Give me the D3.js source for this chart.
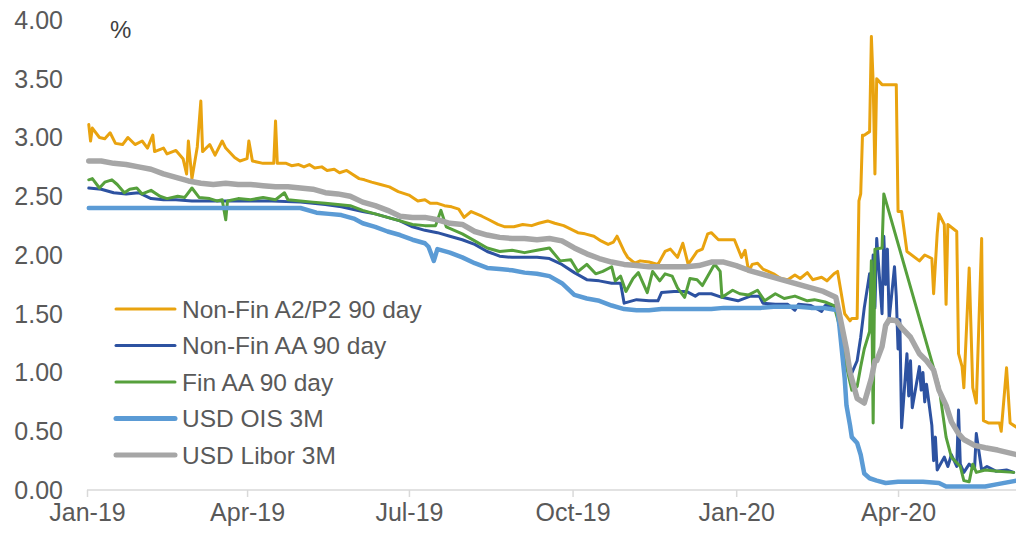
<!DOCTYPE html>
<html><head><meta charset="utf-8">
<script src="https://cdn.jsdelivr.net/npm/d3@7"></script>
<style>
html,body{margin:0;padding:0;background:#fff;}
svg{display:block;font-family:"Liberation Sans",Arial,sans-serif;}
</style></head>
<body><svg id="chart" width="1016" height="536"></svg>
<script>
const seriesNames = ["Non-Fin A2/P2 90 day","Non-Fin AA 90 day","Fin AA 90 day","USD OIS 3M","USD Libor 3M"];
const seriesColors = ["#E9A30F","#2D52A1","#56A03C","#5B9BD5","#A6A6A6"];
const seriesWidths = [3,3,3,4.5,5.5];
const legendWidths = [3,3,3,5,5];
const tickDates = ["2019-01-01","2019-04-01","2019-07-01","2019-10-01","2020-01-01","2020-04-01"];
const tickLabels = ["Jan-19","Apr-19","Jul-19","Oct-19","Jan-20","Apr-20"];
const yTicks = [0,0.5,1,1.5,2,2.5,3,3.5,4];

const nonFinA2P2 = [
["2019-01-02",3.11],["2019-01-03",2.97],["2019-01-04",3.08],["2019-01-08",3.00],["2019-01-11",2.99],["2019-01-14",3.04],
["2019-01-17",2.95],["2019-01-21",2.94],["2019-01-24",3.00],["2019-01-28",2.94],["2019-02-01",2.97],["2019-02-04",2.91],
["2019-02-07",3.02],["2019-02-08",2.88],["2019-02-13",2.91],["2019-02-15",2.86],["2019-02-20",2.89],["2019-02-24",2.82],
["2019-02-26",2.69],["2019-02-27",2.97],["2019-03-01",2.65],["2019-03-04",2.92],["2019-03-06",3.31],["2019-03-07",2.88],
["2019-03-11",2.94],["2019-03-14",2.85],["2019-03-18",2.97],["2019-03-20",2.91],["2019-03-25",2.83],["2019-03-28",2.80],
["2019-04-01",2.82],["2019-04-02",2.97],["2019-04-04",2.80],["2019-04-10",2.78],["2019-04-16",2.78],["2019-04-17",3.14],
["2019-04-18",2.78],["2019-04-23",2.78],["2019-04-26",2.76],["2019-04-30",2.77],["2019-05-03",2.75],["2019-05-06",2.77],
["2019-05-09",2.74],["2019-05-13",2.75],["2019-05-16",2.72],["2019-05-20",2.73],["2019-05-23",2.70],["2019-05-27",2.72],
["2019-05-30",2.69],["2019-06-03",2.65],["2019-06-06",2.64],["2019-06-10",2.62],["2019-06-15",2.60],["2019-06-20",2.58],
["2019-06-25",2.54],["2019-07-01",2.51],["2019-07-06",2.46],["2019-07-10",2.47],["2019-07-13",2.44],["2019-07-17",2.44],
["2019-07-21",2.42],["2019-07-25",2.41],["2019-07-29",2.39],["2019-08-01",2.32],["2019-08-05",2.37],["2019-08-08",2.35],
["2019-08-11",2.33],["2019-08-15",2.30],["2019-08-20",2.26],["2019-08-24",2.24],["2019-08-29",2.24],["2019-09-03",2.26],
["2019-09-08",2.25],["2019-09-12",2.27],["2019-09-17",2.29],["2019-09-21",2.27],["2019-09-26",2.25],["2019-09-30",2.22],
["2019-10-04",2.19],["2019-10-08",2.18],["2019-10-13",2.16],["2019-10-17",2.12],["2019-10-21",2.09],["2019-10-24",2.11],
["2019-10-26",2.16],["2019-10-30",2.03],["2019-11-01",1.98],["2019-11-05",1.93],["2019-11-08",1.95],["2019-11-13",1.94],
["2019-11-18",1.92],["2019-11-22",2.03],["2019-11-25",2.05],["2019-11-29",1.98],["2019-12-02",2.10],["2019-12-05",1.92],
["2019-12-10",2.03],["2019-12-13",2.05],["2019-12-16",2.18],["2019-12-18",2.19],["2019-12-22",2.13],["2019-12-31",2.13],
["2020-01-04",1.98],["2020-01-06",2.04],["2020-01-08",1.86],["2020-01-10",1.92],["2020-01-13",1.93],["2020-01-16",1.88],
["2020-01-19",1.86],["2020-01-22",1.84],["2020-01-26",1.80],["2020-01-30",1.79],["2020-02-03",1.83],["2020-02-06",1.80],
["2020-02-10",1.85],["2020-02-13",1.79],["2020-02-18",1.81],["2020-02-21",1.78],["2020-02-25",1.84],["2020-02-27",1.86],
["2020-03-02",1.50],["2020-03-05",1.44],["2020-03-06",1.46],["2020-03-09",1.46],["2020-03-10",2.46],["2020-03-11",2.52],
["2020-03-12",3.02],["2020-03-13",3.02],["2020-03-16",3.05],["2020-03-17",3.86],["2020-03-18",3.47],["2020-03-19",2.69],
["2020-03-20",3.50],["2020-03-23",3.45],["2020-03-31",3.45],["2020-04-01",2.37],["2020-04-03",2.37],["2020-04-06",2.03],
["2020-04-13",1.95],["2020-04-16",2.00],["2020-04-20",1.97],["2020-04-21",1.67],["2020-04-23",2.18],["2020-04-24",2.35],
["2020-04-27",2.26],["2020-04-28",1.58],["2020-04-29",2.26],["2020-05-04",2.20],["2020-05-05",1.16],["2020-05-07",1.05],
["2020-05-08",0.87],["2020-05-11",1.89],["2020-05-13",0.87],["2020-05-15",0.74],["2020-05-18",2.14],["2020-05-19",0.59],
["2020-05-22",0.57],["2020-05-28",0.57],["2020-05-29",0.50],["2020-06-01",1.04],["2020-06-03",0.57],["2020-06-05",0.55],
["2020-06-08",0.52]
];

const nonFinAA = [
["2019-01-02",2.57],["2019-01-09",2.56],["2019-01-16",2.53],["2019-01-23",2.52],["2019-01-30",2.53],["2019-02-06",2.48],
["2019-02-13",2.47],["2019-02-20",2.47],["2019-03-01",2.46],["2019-03-15",2.46],["2019-04-01",2.46],["2019-04-15",2.46],
["2019-05-01",2.45],["2019-05-15",2.43],["2019-05-24",2.41],["2019-06-05",2.37],["2019-06-12",2.35],["2019-06-19",2.32],
["2019-06-26",2.29],["2019-07-03",2.24],["2019-07-10",2.21],["2019-07-17",2.19],["2019-07-24",2.16],["2019-07-31",2.13],
["2019-08-07",2.09],["2019-08-14",2.03],["2019-08-21",1.99],["2019-08-28",1.98],["2019-09-04",1.98],["2019-09-11",1.98],
["2019-09-18",1.97],["2019-09-25",1.92],["2019-10-02",1.85],["2019-10-09",1.79],["2019-10-16",1.78],["2019-10-23",1.76],
["2019-10-28",1.76],["2019-10-30",1.59],["2019-11-06",1.62],["2019-11-13",1.61],["2019-11-18",1.61],["2019-11-20",1.68],
["2019-11-27",1.69],["2019-12-04",1.69],["2019-12-09",1.65],["2019-12-11",1.67],["2019-12-18",1.67],["2019-12-24",1.64],
["2020-01-02",1.61],["2020-01-09",1.65],["2020-01-14",1.65],["2020-01-16",1.59],["2020-01-23",1.58],["2020-01-30",1.58],
["2020-02-03",1.53],["2020-02-05",1.58],["2020-02-12",1.57],["2020-02-18",1.52],["2020-02-20",1.57],["2020-02-26",1.57],
["2020-02-28",1.40],["2020-03-02",1.16],["2020-03-05",0.96],["2020-03-09",1.10],["2020-03-11",1.30],["2020-03-13",1.55],
["2020-03-16",1.84],["2020-03-17",1.60],["2020-03-18",2.00],["2020-03-19",1.55],["2020-03-20",2.14],["2020-03-23",1.50],
["2020-03-24",2.16],["2020-03-25",1.75],["2020-03-26",2.05],["2020-03-27",1.45],["2020-03-30",1.90],["2020-03-31",1.65],
["2020-04-01",1.20],["2020-04-02",1.45],["2020-04-03",0.53],["2020-04-06",1.16],["2020-04-07",0.80],["2020-04-08",1.10],
["2020-04-09",0.70],["2020-04-13",1.05],["2020-04-14",0.85],["2020-04-15",1.00],["2020-04-16",0.75],["2020-04-17",0.90],
["2020-04-20",0.55],["2020-04-21",0.25],["2020-04-22",0.45],["2020-04-23",0.17],["2020-04-27",0.28],["2020-04-29",0.20],
["2020-05-01",0.30],["2020-05-04",0.20],["2020-05-05",0.68],["2020-05-06",0.22],["2020-05-08",0.15],["2020-05-11",0.22],
["2020-05-14",0.18],["2020-05-15",0.48],["2020-05-18",0.17],["2020-05-21",0.20],["2020-05-26",0.16],["2020-06-01",0.17],
["2020-06-05",0.15]
];

const finAA = [
["2019-01-02",2.64],["2019-01-04",2.65],["2019-01-08",2.57],["2019-01-11",2.62],["2019-01-15",2.64],["2019-01-18",2.60],
["2019-01-22",2.53],["2019-01-25",2.56],["2019-01-29",2.57],["2019-02-01",2.52],["2019-02-06",2.55],["2019-02-11",2.50],
["2019-02-15",2.48],["2019-02-21",2.50],["2019-02-25",2.49],["2019-03-01",2.57],["2019-03-05",2.49],["2019-03-11",2.48],
["2019-03-15",2.46],["2019-03-18",2.47],["2019-03-20",2.30],["2019-03-21",2.46],["2019-03-27",2.48],["2019-04-03",2.47],
["2019-04-10",2.49],["2019-04-17",2.47],["2019-04-22",2.53],["2019-04-24",2.47],["2019-05-01",2.46],["2019-05-08",2.45],
["2019-05-15",2.44],["2019-05-22",2.43],["2019-05-29",2.42],["2019-06-05",2.38],["2019-06-12",2.35],["2019-06-19",2.32],
["2019-06-26",2.29],["2019-07-03",2.26],["2019-07-10",2.25],["2019-07-16",2.25],["2019-07-19",2.38],["2019-07-22",2.24],
["2019-07-31",2.18],["2019-08-07",2.12],["2019-08-14",2.06],["2019-08-21",2.03],["2019-08-28",2.04],["2019-09-04",2.02],
["2019-09-11",2.04],["2019-09-18",2.06],["2019-09-24",1.95],["2019-09-30",1.96],["2019-10-04",1.86],["2019-10-09",1.92],
["2019-10-14",1.84],["2019-10-18",1.86],["2019-10-23",1.90],["2019-10-25",1.78],["2019-10-28",1.82],["2019-10-31",1.69],
["2019-11-04",1.80],["2019-11-07",1.85],["2019-11-12",1.68],["2019-11-15",1.86],["2019-11-19",1.78],["2019-11-22",1.84],
["2019-11-26",1.82],["2019-11-29",1.72],["2019-12-03",1.64],["2019-12-06",1.80],["2019-12-10",1.79],["2019-12-13",1.74],
["2019-12-19",1.90],["2019-12-20",1.92],["2019-12-23",1.86],["2019-12-24",1.64],["2019-12-30",1.70],["2020-01-03",1.67],
["2020-01-08",1.66],["2020-01-13",1.70],["2020-01-17",1.61],["2020-01-23",1.67],["2020-01-28",1.63],["2020-02-03",1.65],
["2020-02-10",1.61],["2020-02-14",1.62],["2020-02-20",1.60],["2020-02-25",1.57],["2020-02-28",1.40],["2020-03-03",1.05],
["2020-03-06",0.85],["2020-03-09",0.88],["2020-03-11",1.05],["2020-03-13",1.20],["2020-03-16",1.35],["2020-03-17",1.95],
["2020-03-18",0.57],["2020-03-19",2.05],["2020-03-23",2.06],["2020-03-24",2.52],["2020-04-24",0.88],["2020-04-28",0.45],
["2020-05-01",0.28],["2020-05-06",0.20],["2020-05-08",0.08],["2020-05-11",0.07],["2020-05-13",0.22],["2020-05-15",0.15],
["2020-05-20",0.17],["2020-05-27",0.16],["2020-06-05",0.15]
];

const usdOIS = [
["2019-01-02",2.40],["2019-02-01",2.40],["2019-03-01",2.40],["2019-04-01",2.40],["2019-05-01",2.40],["2019-05-10",2.36],
["2019-05-17",2.35],["2019-05-24",2.34],["2019-05-31",2.31],["2019-06-05",2.27],["2019-06-12",2.24],["2019-06-19",2.20],
["2019-06-26",2.17],["2019-07-03",2.13],["2019-07-10",2.10],["2019-07-12",2.07],["2019-07-15",1.95],["2019-07-17",2.05],
["2019-07-24",2.02],["2019-07-31",1.98],["2019-08-07",1.93],["2019-08-14",1.89],["2019-08-21",1.88],["2019-08-28",1.87],
["2019-09-04",1.85],["2019-09-11",1.84],["2019-09-18",1.82],["2019-09-25",1.76],["2019-10-02",1.66],["2019-10-09",1.63],
["2019-10-16",1.61],["2019-10-23",1.57],["2019-10-30",1.54],["2019-11-06",1.53],["2019-11-13",1.53],["2019-11-20",1.54],
["2019-11-27",1.54],["2019-12-04",1.54],["2019-12-11",1.54],["2019-12-18",1.54],["2019-12-25",1.55],["2020-01-01",1.55],
["2020-01-08",1.55],["2020-01-15",1.55],["2020-01-22",1.56],["2020-01-29",1.56],["2020-02-05",1.56],["2020-02-12",1.55],
["2020-02-19",1.55],["2020-02-27",1.53],["2020-02-28",1.40],["2020-03-02",0.95],["2020-03-03",0.72],["2020-03-05",0.55],
["2020-03-06",0.45],["2020-03-09",0.40],["2020-03-11",0.30],["2020-03-13",0.14],["2020-03-16",0.10],["2020-03-20",0.08],
["2020-03-25",0.06],["2020-04-01",0.07],["2020-04-15",0.07],["2020-04-24",0.06],["2020-04-28",0.03],["2020-05-10",0.03],
["2020-05-20",0.03],["2020-05-27",0.05],["2020-06-07",0.08]
];

const usdLibor = [
["2019-01-02",2.80],["2019-01-09",2.80],["2019-01-16",2.78],["2019-01-23",2.77],["2019-01-30",2.75],["2019-02-06",2.73],
["2019-02-13",2.69],["2019-02-20",2.66],["2019-02-27",2.63],["2019-03-06",2.61],["2019-03-13",2.60],["2019-03-20",2.61],
["2019-03-27",2.60],["2019-04-03",2.60],["2019-04-10",2.59],["2019-04-17",2.58],["2019-04-24",2.58],["2019-05-01",2.57],
["2019-05-08",2.56],["2019-05-15",2.53],["2019-05-22",2.52],["2019-05-29",2.50],["2019-06-05",2.45],["2019-06-12",2.42],
["2019-06-19",2.38],["2019-06-26",2.33],["2019-07-03",2.32],["2019-07-10",2.32],["2019-07-17",2.30],["2019-07-24",2.27],
["2019-07-31",2.26],["2019-08-07",2.20],["2019-08-14",2.17],["2019-08-21",2.15],["2019-08-28",2.14],["2019-09-04",2.14],
["2019-09-11",2.13],["2019-09-18",2.14],["2019-09-25",2.12],["2019-10-02",2.06],["2019-10-09",2.01],["2019-10-16",1.97],
["2019-10-23",1.94],["2019-10-30",1.92],["2019-11-06",1.91],["2019-11-13",1.90],["2019-11-20",1.90],["2019-11-27",1.90],
["2019-12-04",1.90],["2019-12-11",1.91],["2019-12-18",1.94],["2019-12-25",1.94],["2020-01-01",1.91],["2020-01-08",1.87],
["2020-01-15",1.84],["2020-01-22",1.81],["2020-01-29",1.78],["2020-02-05",1.75],["2020-02-12",1.72],["2020-02-19",1.69],
["2020-02-26",1.64],["2020-02-28",1.50],["2020-03-03",1.20],["2020-03-05",1.00],["2020-03-09",0.78],["2020-03-11",0.76],
["2020-03-13",0.74],["2020-03-17",0.95],["2020-03-19",1.10],["2020-03-20",1.10],["2020-03-23",1.22],["2020-03-25",1.40],
["2020-03-27",1.45],["2020-03-31",1.44],["2020-04-03",1.38],["2020-04-08",1.30],["2020-04-13",1.16],["2020-04-17",1.10],
["2020-04-21",1.02],["2020-04-24",0.85],["2020-04-28",0.72],["2020-05-01",0.58],["2020-05-05",0.48],["2020-05-08",0.43],
["2020-05-14",0.38],["2020-05-20",0.36],["2020-05-27",0.34],["2020-06-07",0.30]
];

const allSeries = [nonFinA2P2, nonFinAA, finAA, usdOIS, usdLibor];

const parse = d3.timeParse("%Y-%m-%d");
const svg = d3.select("#chart");
const x = d3.scaleTime().domain([parse("2019-01-01"), parse("2020-06-08")]).range([87, 1019]);
const y = d3.scaleLinear().domain([0, 4]).range([490, 20]);

// y labels (no axis line)
svg.append("g").selectAll("text").data(yTicks).join("text")
  .attr("x", 63).attr("y", d => y(d)).attr("dy", "0.35em")
  .attr("text-anchor", "end").attr("font-size", 25).attr("fill", "#595959")
  .text(d => d3.format(".2f")(d));

// x axis
const xAxis = d3.axisBottom(x)
  .tickValues(tickDates.map(parse))
  .tickFormat((d, i) => tickLabels[i])
  .tickSize(7).tickSizeOuter(0).tickPadding(6);
const gx = svg.append("g").attr("transform", "translate(0,490)").call(xAxis);
gx.select(".domain").attr("stroke", "#d9d9d9").attr("stroke-width", 1.5).attr("d", "M87,0H1016");
gx.selectAll(".tick line").attr("stroke", "#d9d9d9").attr("stroke-width", 1.5);
gx.selectAll(".tick text").attr("font-size", 25).attr("fill", "#595959")
  .attr("font-family", "Liberation Sans, Arial, sans-serif");

// lines
const line = d3.line().x(d => x(parse(d[0]))).y(d => y(d[1]));
svg.append("g").selectAll("path").data(allSeries).join("path")
  .attr("d", line).attr("fill", "none")
  .attr("stroke", (d, i) => seriesColors[i])
  .attr("stroke-width", (d, i) => seriesWidths[i])
  .attr("stroke-linejoin", "round").attr("stroke-linecap", "round");

// unit label
svg.append("text").attr("x", 110).attr("y", 38).attr("font-size", 24).attr("fill", "#404040").text("%");

// legend
const lg = svg.append("g").selectAll("g").data(seriesNames).join("g")
  .attr("transform", (d, i) => `translate(0,${309 + i * 36.5})`);
lg.append("line").attr("x1", 116).attr("x2", 175).attr("y1", 0).attr("y2", 0)
  .attr("stroke", (d, i) => seriesColors[i]).attr("stroke-width", (d, i) => legendWidths[i])
  .attr("stroke-linecap", "round");
lg.append("text").attr("x", 182).attr("y", 0).attr("dy", "0.35em")
  .attr("font-size", 24.5).attr("fill", "#595959").text(d => d);
</script></body></html>
